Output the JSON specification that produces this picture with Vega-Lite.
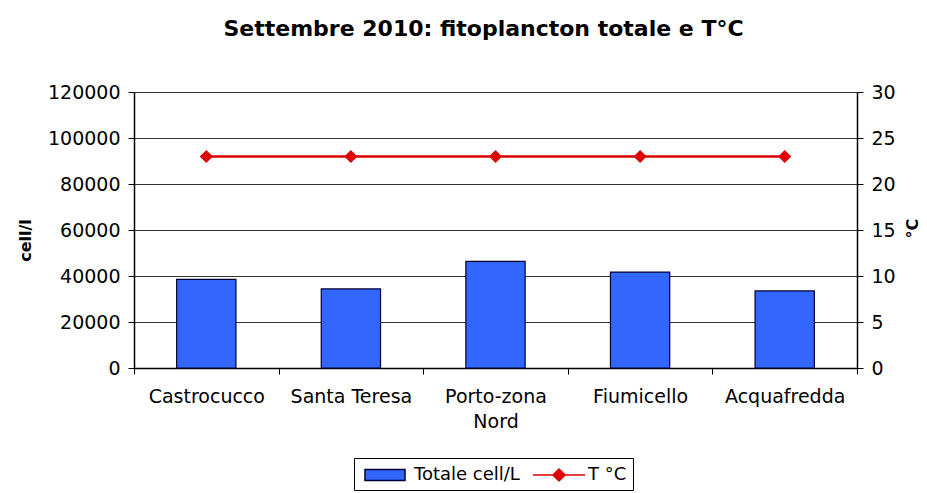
{
  "$schema": "https://vega.github.io/schema/vega-lite/v6.json",
  "width": 723,
  "height": 276,
  "autosize": "none",
  "padding": {"left": 134, "top": 92, "right": 70, "bottom": 125},
  "background": "white",
  "title": {
    "text": "Settembre 2010: fitoplancton totale e T°C",
    "font": "DejaVu Sans",
    "fontSize": 22,
    "fontWeight": "bold",
    "color": "black",
    "anchor": "middle",
    "dx": -12,
    "offset": 42
  },
  "data": {
    "values": [
      {"site": "Castrocucco", "cells": 38500, "temp": 23},
      {"site": "Santa Teresa", "cells": 34400, "temp": 23},
      {"site": "Porto-zona Nord", "cells": 46400, "temp": 23},
      {"site": "Fiumicello", "cells": 41700, "temp": 23},
      {"site": "Acquafredda", "cells": 33500, "temp": 23}
    ]
  },
  "encoding": {
    "x": {
      "field": "site",
      "type": "nominal",
      "sort": null,
      "scale": {"paddingInner": 0, "paddingOuter": 0},
      "axis": {
        "title": null,
        "labelAngle": 0,
        "labelFont": "DejaVu Sans",
        "labelFontSize": 19,
        "labelColor": "black",
        "labelPadding": 13,
        "labelLineHeight": 25,
        "labelExpr": "datum.value == 'Porto-zona Nord' ? ['Porto-zona', 'Nord'] : datum.value",
        "tickBand": "extent",
        "tickColor": "black",
        "tickSize": 6,
        "domainColor": "black",
        "domainWidth": 1.5,
        "grid": false
      }
    }
  },
  "layer": [
    {
      "mark": {"type": "bar", "width": {"band": 0.41}, "fill": "#3366FF", "stroke": "#000033", "strokeWidth": 1.2},
      "encoding": {
        "y": {
          "field": "cells",
          "type": "quantitative",
          "scale": {"domain": [0, 120000]},
          "axis": {
            "title": "cell/l",
            "titleFont": "DejaVu Sans",
            "titleFontSize": 16,
            "titleFontWeight": "bold",
            "titleColor": "black",
            "titleX": -109,
            "titleY": 148,
            "titleAlign": "center",
            "titleBaseline": "middle",
            "titleAngle": 270,
            "values": [0, 20000, 40000, 60000, 80000, 100000, 120000],
            "format": "d",
            "labelFont": "DejaVu Sans",
            "labelFontSize": 19,
            "labelColor": "black",
            "labelPadding": 8,
            "tickColor": "black",
            "tickSize": 6,
            "domainColor": "black",
            "domainWidth": 1.5,
            "grid": true,
            "gridColor": "#333333",
            "gridWidth": 1
          }
        }
      }
    },
    {
      "mark": {"type": "line", "strokeWidth": 2.5, "color": "#E00000"},
      "encoding": {
        "y": {
          "field": "temp",
          "type": "quantitative",
          "scale": {"domain": [0, 30]},
          "axis": null
        }
      }
    },
    {
      "mark": {"type": "point", "filled": true, "shape": "diamond", "size": 170, "opacity": 1, "color": "#E00000"},
      "encoding": {
        "y": {
          "field": "temp",
          "type": "quantitative",
          "scale": {"domain": [0, 30]},
          "axis": {
            "orient": "right",
            "title": "°C",
            "titleFont": "DejaVu Sans",
            "titleFontSize": 16,
            "titleFontWeight": "bold",
            "titleColor": "black",
            "titleAngle": 270,
            "titleX": 55,
            "titleY": 136,
            "titleAlign": "center",
            "titleBaseline": "middle",
            "values": [0, 5, 10, 15, 20, 25, 30],
            "labelFont": "DejaVu Sans",
            "labelFontSize": 19,
            "labelColor": "black",
            "labelPadding": 8,
            "tickColor": "black",
            "tickSize": 6,
            "domainColor": "black",
            "domainWidth": 1.5,
            "grid": false
          }
        }
      }
    },
    {
      "mark": {"type": "point", "filled": true, "opacity": 0},
      "encoding": {
        "y": {"field": "temp", "type": "quantitative", "scale": {"domain": [0, 30]}, "axis": null},
        "fill": {
          "datum": "T °C",
          "type": "nominal",
          "scale": {"domain": ["Totale cell/L", "T °C"], "range": ["#3366FF", "#E00000"]},
          "legend": {"title": null}
        },
        "stroke": {
          "datum": "T °C",
          "type": "nominal",
          "scale": {"domain": ["Totale cell/L", "T °C"], "range": ["#000033", "#E00000"]},
          "legend": {"title": null}
        },
        "shape": {
          "datum": "T °C",
          "type": "nominal",
          "scale": {"domain": ["Totale cell/L", "T °C"], "range": ["M-2,-0.55H2V0.55H-2Z", "M-2.6,0H2.6M-0.6,0L0,-0.6L0.6,0L0,0.6Z"]},
          "legend": {"title": null}
        }
      }
    }
  ],
  "resolve": {"scale": {"y": "independent"}},
  "config": {
    "view": {"stroke": null},
    "legend": {
      "orient": "none",
      "legendX": 220,
      "legendY": 366,
      "direction": "horizontal",
      "strokeColor": "black",
      "fillColor": "white",
      "padding": 6,
      "labelFont": "DejaVu Sans",
      "labelFontSize": 18,
      "labelColor": "black",
      "symbolSize": 400,
      "symbolStrokeWidth": 1.5,
      "symbolOffset": 14,
      "labelOffset": 18,
      "columnPadding": 10,
      "symbolOpacity": 1
    }
  }
}
